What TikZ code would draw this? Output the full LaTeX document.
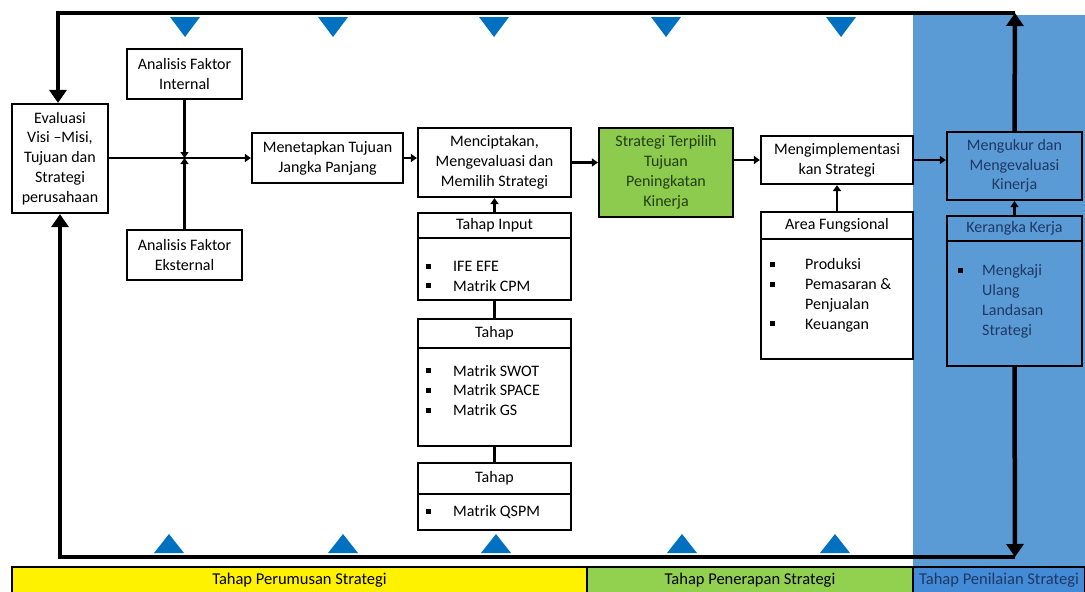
\documentclass[tikz,border=0pt]{standalone}
\usepackage{fontspec}
\setmainfont{Carlito}
\usetikzlibrary{arrows.meta}

\definecolor{panelblue}{HTML}{5B9BD5}
\definecolor{triblue}{HTML}{0070C0}
\definecolor{boxgreen}{HTML}{8DCB4E}
\definecolor{bargreen}{HTML}{92D050}
\definecolor{barblue}{HTML}{438BD6}
\definecolor{navy}{HTML}{1F3864}
\definecolor{darkgreen}{HTML}{243D12}

% small square bullet
\newcommand\sqbul{\raisebox{3pt}{\rule{5pt}{5pt}}}
% bulleted list: #1 = distance from bullet to text
\newcommand\blist[2]{\renewcommand\arraystretch{1}%
  \begin{tabular}{@{}p{#1}@{}l@{}}#2\end{tabular}}

\begin{document}
\begin{tikzpicture}[x=1pt,y=-1pt,
  txt/.style={font=\fontsize{16}{19.8}\selectfont},
  box/.style={txt,draw=black,line width=2.2pt,fill=white,align=center,inner sep=0pt},
  bluebox/.style={box,fill=panelblue,text=navy},
  listnode/.style={txt,inner sep=0pt,anchor=west},
  conn/.style={line width=2.5pt,-{Triangle[width=8pt,length=6pt]}},
  plain/.style={line width=2.5pt},
  loopline/.style={line width=4.5pt,-{Triangle[width=17pt,length=13pt]}},
  bar/.style={draw=black,line width=1.5pt,inner sep=0pt,font=\fontsize{16.5}{18}\selectfont}
]
\useasboundingbox (0,0) rectangle (1085,592);

% evaluation panel on the right
\fill[panelblue] (913,15) rectangle (1085,567);

% phase bars
\node[bar,fill=yellow,minimum width=575pt,minimum height=27pt] (ph1) at (299.5,580.5) {Tahap Perumusan Strategi};
\node[bar,fill=bargreen,minimum width=326pt,minimum height=27pt] (ph2) at (750,580.5) {Tahap Penerapan Strategi};
\node[bar,fill=barblue,text=navy,minimum width=172pt,minimum height=27pt] (ph3) at (999,580.5) {Tahap Penilaian Strategi};

% blue markers along the feedback loop
\foreach \x in {185,333,494,666,841}
  \fill[triblue] (\x-15,17) -- (\x+15,17) -- (\x,37) -- cycle;
\foreach \x in {169,343,496,682,835}
  \fill[triblue] (\x-15,553) -- (\x+15,553) -- (\x,534) -- cycle;

% formulation stage
\node[box,minimum width=96pt,minimum height=109pt] (eval) at (60,158.5)
  {Evaluasi\\Visi --Misi,\\Tujuan dan\\Strategi\\perusahaan};
\node[box,minimum width=115pt,minimum height=50pt] (int) at (184.5,74) {Analisis Faktor\\Internal};
\node[box,minimum width=115pt,minimum height=50pt] (ext) at (184.5,255) {Analisis Faktor\\Eksternal};
\node[box,minimum width=151pt,minimum height=50pt] (tuj) at (327.5,158) {Menetapkan Tujuan\\Jangka Panjang};
\node[box,minimum width=153pt,minimum height=69pt] (cipta) at (494.5,162.5)
  {Menciptakan,\\Mengevaluasi dan\\Memilih Strategi};

\node[box,minimum width=153pt,minimum height=25pt] (inh) at (494.5,225.5) {Tahap Input};
\node[box,minimum width=153pt,minimum height=62pt] (inb) at (494.5,269) {};
\node[listnode] (inl) at (425.5,277.5) {\blist{27.5pt}{\sqbul & IFE EFE\\ \sqbul & Matrik CPM}};

\node[box,minimum width=153pt,minimum height=29pt] (t2h) at (494.5,333.5) {Tahap};
\node[box,minimum width=153pt,minimum height=98pt] (t2b) at (494.5,397) {};
\node[listnode] (t2l) at (425.5,392) {\blist{27.5pt}{\sqbul & Matrik SWOT\\ \sqbul & Matrik SPACE\\ \sqbul & Matrik GS}};

\node[box,minimum width=153pt,minimum height=31pt] (t3h) at (494.5,478.5) {Tahap};
\node[box,minimum width=153pt,minimum height=36pt] (t3b) at (494.5,512) {};
\node[listnode] (t3l) at (425.5,513) {\blist{27.5pt}{\sqbul & Matrik QSPM}};

% implementation stage
\node[box,fill=boxgreen,text=darkgreen,minimum width=134pt,minimum height=89pt] (pilih) at (666,172.5)
  {Strategi Terpilih\\Tujuan\\Peningkatan\\Kinerja};
\node[box,minimum width=152pt,minimum height=48pt] (impl) at (837,160) {Mengimplementasi\\kan Strategi};
\node[box,minimum width=152pt,minimum height=27pt] (areah) at (837,225.5) {Area Fungsional};
\node[box,minimum width=152pt,minimum height=120pt] (areab) at (837,299) {};
\node[listnode] (areal) at (769.5,295.5) {\blist{35.5pt}{\sqbul & Produksi\\ \sqbul & Pemasaran \&\\ & Penjualan\\ \sqbul & Keuangan}};

% evaluation stage
\node[bluebox,minimum width=135pt,minimum height=68pt] (ukur) at (1014.5,166)
  {Mengukur dan\\Mengevaluasi\\Kinerja};
\node[bluebox,minimum width=135pt,minimum height=25pt] (kerh) at (1014.5,228.5) {Kerangka Kerja};
\node[bluebox,minimum width=135pt,minimum height=125pt] (kerb) at (1014.5,303.5) {};
\node[listnode,text=navy] (kerl) at (957.5,301.5) {\blist{24.5pt}{\textcolor{black}{\sqbul} & Mengkaji\\ & Ulang\\ & Landasan\\ & Strategi}};

% connectors
\coordinate (j) at (int.south |- tuj.west);
\draw[conn] (eval.east |- tuj.west) -- (tuj.west);
\draw[conn] (int.south) -- (j);
\draw[conn] (ext.north) -- (j);
\draw[conn] (tuj.east) -- (tuj.east -| cipta.west);
\draw[conn] (cipta.east) -- (cipta.east -| pilih.west);
\draw[conn] (impl.west -| pilih.east) -- (impl.west);
\draw[conn] (impl.east) -- (impl.east -| ukur.west);
\draw[conn] (inh.north) -- (cipta.south);
\draw[plain] (inb.south) -- (t2h.north);
\draw[plain] (t2b.south) -- (t3h.north);
\draw[conn] (areah.north) -- (impl.south);
\draw[conn] (kerh.north) -- (ukur.south);

% feedback loop
\coordinate (tr) at (1015,13);
\coordinate (tl) at (58,13);
\coordinate (br) at (1015,557);
\coordinate (bl) at (60,557);
\draw[loopline] (ukur.north) -- (tr);
\draw[loopline,line join=miter] (tr) -- (tl) -- (tl |- eval.north);
\draw[loopline] (kerb.south) -- (br);
\draw[loopline,line join=miter] (br) -- (bl) -- (bl |- eval.south);
\end{tikzpicture}
\end{document}
